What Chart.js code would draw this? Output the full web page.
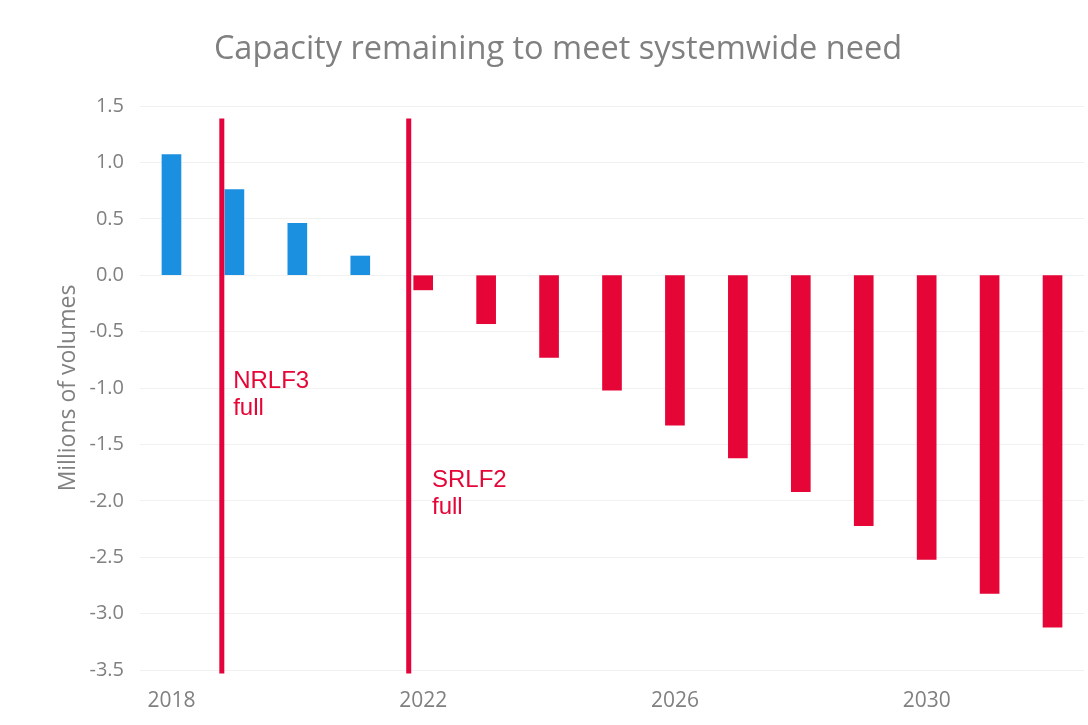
<!DOCTYPE html>
<html>
<head>
<meta charset="utf-8">
<script src="https://cdn.jsdelivr.net/npm/chart.js@4/dist/chart.umd.min.js"></script>
<style>
  html, body { margin: 0; padding: 0; background: #fff; }
  #wrap { width: 1088px; height: 725px; }
</style>
</head>
<body>
<div id="wrap"><canvas id="chart" width="1088" height="725"></canvas></div>
<script>
// ---- data ----
var years = [2018, 2019, 2020, 2021, 2022, 2023, 2024, 2025, 2026, 2027, 2028, 2029, 2030, 2031, 2032];
var capacity = [1.07, 0.76, 0.46, 0.17, -0.13, -0.43, -0.73, -1.02, -1.33, -1.62, -1.92, -2.22, -2.52, -2.82, -3.12];
var shownYears = [2018, 2022, 2026, 2030];

// facility-full markers (year position, line top/bottom, note baseline)
var markerNames = [["NRLF3", "full"], ["SRLF2", "full"]];
var markerYears = [2018.80, 2021.77];
var markerTop = 1.39;
var markerBottom = -3.53;
var noteYears = [2018.98, 2022.14];
var noteValues = [-1.00, -1.88];

var BLUE = "#1b8fe0";
var RED = "#e50536";
var GRAY = "#808080";

var barColors = capacity.map(function(v){ return v >= 0 ? BLUE : RED; });

/* marker lines + notes, placed through the chart scales */
var markerPlugin = {
  id: "markers",
  afterDatasetsDraw: function(chart){
    var ctx = chart.ctx;
    var x = chart.scales.x, y = chart.scales.y;
    ctx.save();
    for (var i = 0; i < markerYears.length; i++) {
      var px = x.getPixelForValue(markerYears[i] - years[0]);
      ctx.strokeStyle = "#e2043a";
      ctx.lineWidth = 5;
      ctx.beginPath();
      ctx.moveTo(px, y.getPixelForValue(markerTop));
      ctx.lineTo(px, y.getPixelForValue(markerBottom));
      ctx.stroke();

      var tx = x.getPixelForValue(noteYears[i] - years[0]);
      var ty = y.getPixelForValue(noteValues[i]);
      ctx.fillStyle = RED;
      ctx.font = "24px 'Liberation Sans', Arial, sans-serif";
      ctx.textAlign = "left";
      ctx.textBaseline = "alphabetic";
      markerNames[i].forEach(function(line, k){
        ctx.fillText(line, tx, ty + k * 27);
      });
    }
    ctx.restore();
  }
};

var ctx = document.getElementById("chart").getContext("2d");
var chart = new Chart(ctx, {
  type: "bar",
  data: {
    labels: years.map(String),
    datasets: [{
      label: "Capacity remaining",
      data: capacity,
      backgroundColor: barColors,
      borderWidth: 0,
      barThickness: 19
    }]
  },
  options: {
    responsive: false,
    animation: false,
    layout: { padding: { left: 32, right: 4, top: 0, bottom: 7 } },
    plugins: {
      legend: { display: false },
      tooltip: { enabled: false },
      title: {
        display: true,
        text: "Capacity remaining to meet systemwide need",
        color: GRAY,
        font: { family: "'Open Sans', sans-serif", size: 32.5, weight: "normal" },
        padding: { top: 30, bottom: 37 }
      }
    },
    scales: {
      x: {
        grid: { display: false, drawTicks: false },
        border: { display: false },
        afterFit: function(scale){ scale.height = 48; },
        ticks: {
          autoSkip: false,
          maxRotation: 0,
          padding: 18,
          color: GRAY,
          font: { family: "'Open Sans', sans-serif", size: 21 },
          callback: function(val, idx){
            return shownYears.indexOf(years[idx]) >= 0 ? String(years[idx]) : "";
          }
        }
      },
      y: {
        min: -3.5,
        max: 1.5,
        grid: { color: "#f1f1f1", drawTicks: false },
        border: { display: false },
        afterFit: function(scale){ scale.width = 108; },
        ticks: {
          stepSize: 0.5,
          padding: 16,
          color: GRAY,
          font: { family: "'Open Sans', sans-serif", size: 20 },
          callback: function(v){ return v.toFixed(1); }
        },
        title: {
          display: true,
          text: "Millions of volumes",
          color: GRAY,
          font: { family: "'Open Sans', sans-serif", size: 23 },
          padding: { top: 23, bottom: 18 }
        }
      }
    }
  },
  plugins: [markerPlugin]
});
</script>
</body>
</html>
